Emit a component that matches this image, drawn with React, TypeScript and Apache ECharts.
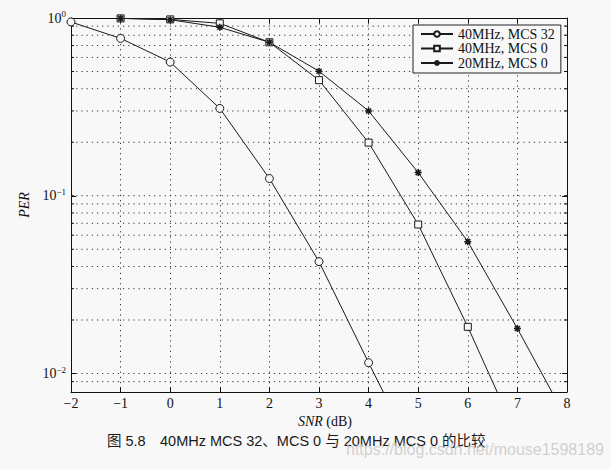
import React, { useEffect, useRef } from "react";
import * as echarts from "echarts";

const xTicks = [-2, -1, 0, 1, 2, 3, 4, 5, 6, 7, 8];
const seriesNames = ["40MHz, MCS 32", "40MHz, MCS 0", "20MHz, MCS 0"];
const snr32 = [-2, -1, 0, 1, 2, 3, 4, 5];
const per32 = [0.95, 0.768, 0.565, 0.31, 0.125, 0.0426, 0.0115, 0.0032];
const snr40 = [-1, 0, 1, 2, 3, 4, 5, 6, 7];
const per40 = [0.995, 0.982, 0.933, 0.73, 0.447, 0.199, 0.0689, 0.0183, 0.0044];
const snr20 = [-1, 0, 1, 2, 3, 4, 5, 6, 7, 8];
const per20 = [0.995, 0.978, 0.887, 0.73, 0.502, 0.3, 0.135, 0.0552, 0.0179, 0.0055];
const yGridValues = [
  0.009, 0.01, 0.02, 0.03, 0.04, 0.05, 0.06, 0.07, 0.08, 0.09,
  0.1, 0.2, 0.3, 0.4, 0.5, 0.6, 0.7, 0.8, 0.9,
];
const yMin = 0.00787;
const yMax = 1;
const captionFig = "图 5.8";
const captionText = "40MHz MCS 32、MCS 0 与 20MHz MCS 0 的比较";
const watermark = "https://blog.csdn.net/mouse1598189";

const SERIF = "'Liberation Serif', 'DejaVu Serif', serif";
const SANS = "'Liberation Sans', 'Noto Sans CJK SC', sans-serif";
const starPath =
  "path://M0,-5L0,5M-5,0L5,0M-3.6,-3.6L3.6,3.6M-3.6,3.6L3.6,-3.6";

export default function App() {
  const ref = useRef<HTMLDivElement>(null);
  useEffect(() => {
    if (!ref.current) return;
    const chart = echarts.init(ref.current, null, { renderer: "svg" });
    const zip = (xs: number[], ys: number[]) => xs.map((x, i) => [x, ys[i]]);
    const lineColor = "#1a1a1a";
    const gridDash = [1.2, 4];
    const commonY = {
      type: "log",
      min: yMin,
      max: yMax,
      logBase: 10,
      axisLine: { show: true, onZero: false, lineStyle: { color: "#111", width: 1 } },
      axisTick: { show: true, inside: true, length: 5, lineStyle: { color: "#111" } },
      splitLine: { show: false },
    };
    const commonX = {
      type: "value",
      min: -2,
      max: 8,
      interval: 1,
      axisLine: { show: true, onZero: false, lineStyle: { color: "#111", width: 1 } },
      axisTick: { show: true, inside: true, length: 5, lineStyle: { color: "#111" } },
    };
    const option: any = {
      animation: false,
      backgroundColor: "#f8f8f8",
      grid: { left: 71, top: 18, width: 496, height: 374 },
      legend: {
        data: seriesNames,
        orient: "vertical",
        left: 413,
        top: 25,
        padding: [2, 6, 3, 7],
        itemGap: 0.5,
        itemWidth: 32,
        itemHeight: 7,
        borderColor: "#222",
        borderWidth: 1,
        borderRadius: 0,
        backgroundColor: "#f8f8f8",
        textStyle: { fontFamily: SERIF, fontSize: 14, color: "#111", lineHeight: 13 },
      },
      xAxis: [
        {
          ...commonX,
          position: "bottom",
          name: "{i|SNR} (dB)",
          nameLocation: "middle",
          nameGap: 16,
          nameTextStyle: {
            fontFamily: SERIF,
            fontSize: 14,
            color: "#111",
            padding: [0, 0, 0, 12],
            rich: { i: { fontFamily: SERIF, fontSize: 14, fontStyle: "italic", color: "#111" } },
          },
          axisLabel: {
            fontFamily: SERIF,
            fontSize: 14,
            color: "#111",
            margin: 4,
            formatter: (v: number) => (v < 0 ? "\u2212" + -v : String(v)),
          },
          splitLine: { show: true, lineStyle: { color: "#333", type: gridDash, width: 1 } },
        },
        {
          ...commonX,
          position: "top",
          axisLabel: { show: false },
          splitLine: { show: false },
        },
      ],
      yAxis: [
        {
          ...commonY,
          position: "left",
          name: "PER",
          nameLocation: "middle",
          nameGap: 34,
          nameTextStyle: { fontFamily: SERIF, fontSize: 14, fontStyle: "italic", color: "#111" },
          axisLabel: {
            showMinLabel: false,
            showMaxLabel: true,
            margin: 5,
            formatter: (v: number) => {
              const e = Math.round(Math.log10(v));
              return "{b|10}{s|" + (e === 0 ? "0" : "\u2212" + -e) + "}";
            },
            rich: {
              b: { fontFamily: SERIF, fontSize: 14, color: "#111" },
              s: { fontFamily: SERIF, fontSize: 9, color: "#111", padding: [0, 0, 8, 0] },
            },
          },
        },
        {
          ...commonY,
          position: "right",
          axisLabel: { show: false },
        },
      ],
      series: [
        {
          type: "custom",
          silent: true,
          xAxisIndex: 0,
          yAxisIndex: 0,
          z: 1,
          data: yGridValues.map((v) => [-2, v]),
          renderItem: (params: any, api: any) => {
            const v = api.value(1);
            const l = api.coord([-2, v]);
            const r = api.coord([8, v]);
            return {
              type: "group",
              children: [
                {
                  type: "line",
                  shape: { x1: l[0], y1: l[1], x2: r[0], y2: r[1] },
                  style: { stroke: "#333", lineWidth: 1, lineDash: gridDash },
                },
                {
                  type: "line",
                  shape: { x1: l[0], y1: l[1], x2: l[0] + 3, y2: l[1] },
                  style: { stroke: "#111", lineWidth: 1 },
                },
                {
                  type: "line",
                  shape: { x1: r[0] - 3, y1: r[1], x2: r[0], y2: r[1] },
                  style: { stroke: "#111", lineWidth: 1 },
                },
              ],
            };
          },
        },
        {
          name: seriesNames[0],
          type: "line",
          data: zip(snr32, per32),
          symbol: "circle",
          symbolSize: 8,
          showAllSymbol: true,
          clip: true,
          lineStyle: { color: lineColor, width: 1 },
          itemStyle: { color: "#f8f8f8", borderColor: lineColor, borderWidth: 1 },
          z: 3,
        },
        {
          name: seriesNames[1],
          type: "line",
          data: zip(snr40, per40),
          symbol: "rect",
          symbolSize: 7,
          showAllSymbol: true,
          clip: true,
          lineStyle: { color: lineColor, width: 1 },
          itemStyle: { color: "#f8f8f8", borderColor: lineColor, borderWidth: 1 },
          z: 3,
        },
        {
          name: seriesNames[2],
          type: "line",
          data: zip(snr20, per20),
          symbol: starPath,
          symbolSize: 7,
          showAllSymbol: true,
          clip: true,
          lineStyle: { color: lineColor, width: 1 },
          itemStyle: { color: lineColor, borderColor: lineColor, borderWidth: 1.5 },
          z: 3,
        },
      ],
      graphic: [
        {
          type: "text",
          left: 107,
          top: 434,
          style: {
            text: captionFig,
            fontFamily: SANS,
            fontSize: 14.5,
            fill: "#1a1a1a",
          },
        },
        {
          type: "text",
          left: 160,
          top: 434,
          style: {
            text: captionText,
            fontFamily: SANS,
            fontSize: 14.5,
            fill: "#1a1a1a",
          },
        },
        {
          type: "text",
          left: 346,
          top: 441,
          style: {
            text: watermark,
            fontFamily: "'Liberation Sans', Arial, sans-serif",
            fontSize: 16,
            fill: "rgba(200,200,200,0.85)",
          },
        },
      ],
    };
    chart.setOption(option);
    return () => chart.dispose();
  }, []);
  return (
    <div
      ref={ref}
      style={{ position: "fixed", left: 0, top: 0, width: 611, height: 469 }}
    />
  );
}
